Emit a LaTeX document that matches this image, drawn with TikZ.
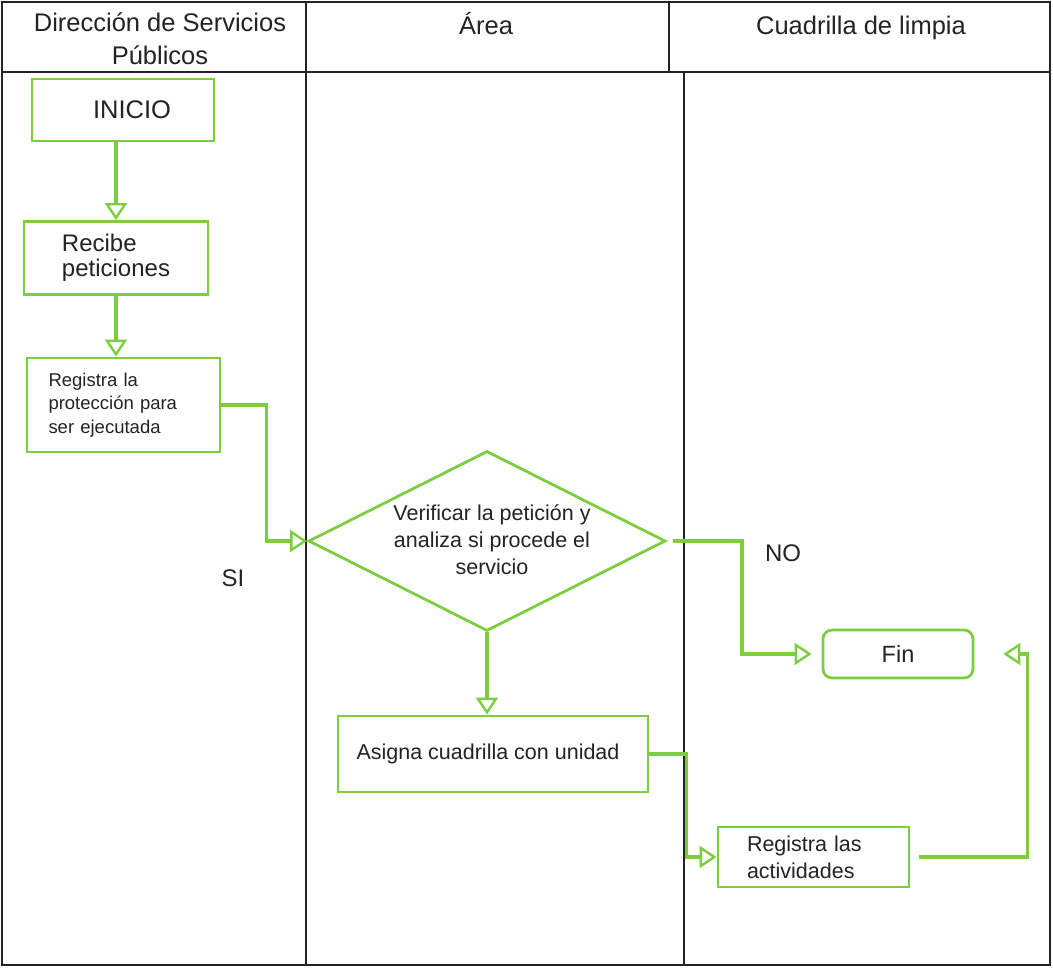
\documentclass[tikz,border=0pt]{standalone}
\usepackage{fontspec}
\setmainfont{Liberation Sans}
\usetikzlibrary{arrows.meta,shapes.geometric,calc}
\definecolor{lgreen}{RGB}{125,205,65}
\definecolor{ink}{RGB}{35,35,35}
\begin{document}
\begin{tikzpicture}[x=1pt,y=-1pt,
 box/.style={draw=lgreen, line width=2.8pt, fill=white, inner sep=0pt, text=ink},
 flow/.style={draw=lgreen, line width=3.2pt, -{Triangle[open, length=17pt, width=22pt, line width=2.4pt]}},
 lane/.style={draw=ink, line width=1.3pt},
 hdr/.style={font=\fontsize{25.5}{33}\selectfont, text=ink, align=center},
 lbl/.style={font=\fontsize{24}{28}\selectfont, text=ink},
]
\useasboundingbox (0,0) rectangle (1053,973);
% swimlane table
\draw[lane] (2,2) rectangle (1050,965);
\draw[lane] (2,72) -- (1050,72);
\draw[lane] (306,2) -- (306,965);
\draw[lane] (669,2) -- (669,72);
\draw[lane] (684,72) -- (684,965);
\node[hdr] (h1) at (160,38.5) {Dirección de Servicios\\Públicos};
\node[hdr] (h2) at (486,24) {Área};
\node[hdr] (h3) at (861,28) {Cuadrilla de limpia};
% nodes
\node[box, minimum width=182pt, minimum height=62pt, font=\fontsize{25.5}{28}\selectfont] (inicio) at (123,110) {\hspace*{18pt}INICIO};
\node[box, minimum width=184pt, minimum height=73pt, font=\fontsize{24}{25}\selectfont, align=left] (recibe) at (116,258) {Recibe\\peticiones};
\node[box, minimum width=193pt, minimum height=94pt, text width=150pt, align=left, font=\fontsize{18.5}{23.5}\selectfont] (reg) at (123.5,405) {Registra la\\protección para\\ser ejecutada};
\node[draw=lgreen, line width=2.8pt, diamond, minimum width=357pt, minimum height=180pt, inner sep=0pt] (dia) at (487,541) {};
\node[font=\fontsize{21.5}{27}\selectfont, align=center, text=ink] (diat) at (492,540) {Verificar la petición y\\analiza si procede el\\servicio};
\node[box, minimum width=310pt, minimum height=76pt, font=\fontsize{21.5}{27}\selectfont] (asigna) at (493,754) {Asigna cuadrilla con unidad\hspace*{10pt}};
\node[box, minimum width=191pt, minimum height=60pt, text width=133pt, align=left, font=\fontsize{21.5}{27}\selectfont] (act) at (813.5,857) {Registra las\\actividades};
\node[box, rounded corners=9pt, minimum width=150pt, minimum height=48pt, font=\fontsize{23.5}{26}\selectfont] (fin) at (898,654) {Fin};
\node[lbl] (no) at (783,553) {NO};
\node[lbl] (si) at (233,578) {SI};
% connectors
\draw[flow] (inicio.south -| recibe.north) -- (recibe.north);
\draw[flow] (recibe.south) -- (recibe.south |- reg.north);
\draw[flow] (reg.east) -- ++(45,0) |- (dia.west);
\draw[flow] (dia.south) -- (dia.south |- asigna.north);
\draw[flow, shorten <=6pt, shorten >=10pt] (dia.east) -- ++(75,0) |- (fin.west);
\draw[flow] (asigna.east) -- ++(37,0) |- (act.west);
\draw[flow, shorten <=9pt, shorten >=29pt] (act.east) -- ++(117,0) |- (fin.east);
\end{tikzpicture}
\end{document}
